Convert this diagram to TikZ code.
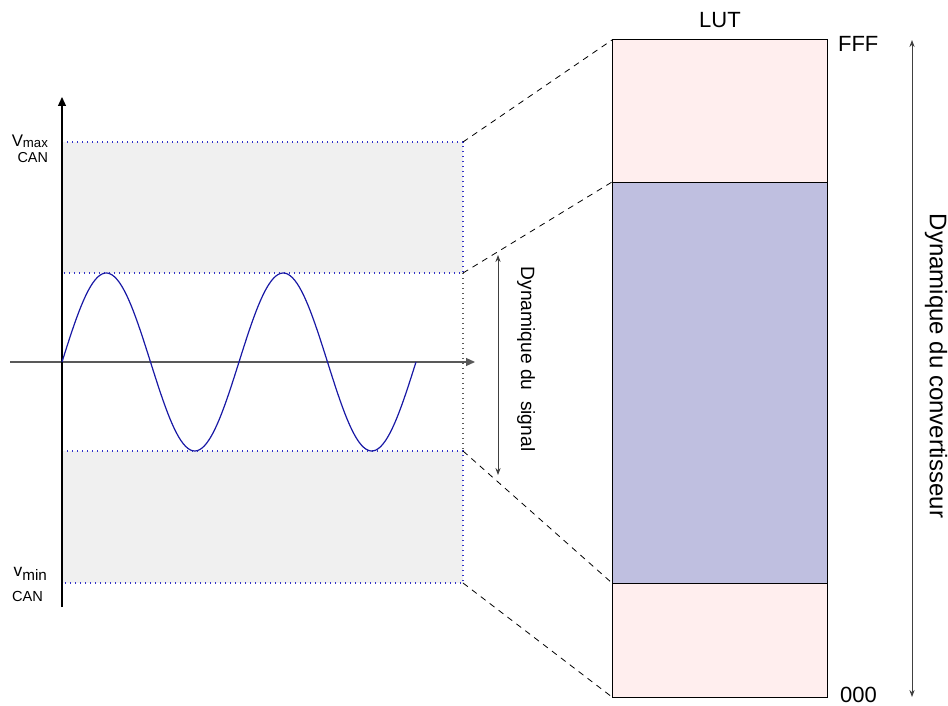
\documentclass[tikz,border=0pt]{standalone}
\usepackage{fontspec}
\setmainfont{Liberation Sans}
\usetikzlibrary{calc, arrows.meta}
\definecolor{bandgray}{RGB}{240,240,240}
\definecolor{lutpink}{RGB}{255,238,238}
\definecolor{lutblue}{RGB}{191,191,224}
\definecolor{sigblue}{RGB}{25,25,165}
\definecolor{dotblue}{RGB}{50,50,200}

\begin{document}
\begin{tikzpicture}[x=0.5pt, y=-0.5pt, font=\fontsize{11}{13}\selectfont,
  bandedge/.style={dotblue, line width=0.7pt, dash pattern=on 0.7pt off 1.8pt},
  midedge/.style={black!65, line width=0.7pt, dash pattern=on 0.7pt off 1.8pt},
  zoomline/.style={line width=0.4pt, dash pattern=on 3pt off 2.6pt},
  dyn/.style={line width=0.45pt, black!75, {Stealth[length=3.5pt,width=2.6pt]}-{Stealth[length=3.5pt,width=2.6pt]}},
  axis/.style={line width=0.6pt, -{Triangle[length=4.5pt,width=4pt]}}]
  \useasboundingbox (0,0) rectangle (948,706);

  % signal side
  \coordinate (o) at (62,362);
  \coordinate (bandTL) at (62,142);
  \coordinate (bandTR) at (463,142);
  \coordinate (sigTL) at (62,273);
  \coordinate (sigTR) at (463,273);
  \coordinate (sigBL) at (62,451);
  \coordinate (sigBR) at (463,451);
  \coordinate (bandBL) at (62,583);
  \coordinate (bandBR) at (463,583);

  \fill[bandgray] (bandTL) rectangle (sigTR);
  \fill[bandgray] (sigBL) rectangle (bandBR);
  \draw[bandedge] (bandTL) -- (bandTR) -- (sigTR) -- (sigTL);
  \draw[bandedge] (sigBL) -- (sigBR) -- (bandBR) -- (bandBL);
  \draw[midedge] (sigTR) -- (sigBR);

  \draw[axis, black!65] (10,362) -- (475,362);
  \draw[axis] (62,607) -- (62,97);

  % two periods, t in degrees
  \draw[sigblue, line width=0.6pt] plot[domain=0:720, samples=150, smooth]
    ({62+\x/360*177}, {362-89*sin(\x)});

  \node[anchor=east, font=\fontsize{8.4}{9}\selectfont] (vmax) at (55,141)
    {V\raisebox{-0.6pt}{\fontsize{6.6}{7}\selectfont max}};
  \node[anchor=east, font=\fontsize{7.2}{8}\selectfont] (vmaxcan) at (55,158) {CAN};
  \node[anchor=east, font=\fontsize{8.7}{9}\selectfont] (vmin) at (54,574)
    {v\raisebox{-2.2pt}{\fontsize{7.6}{8}\selectfont min}};
  \node[anchor=east, font=\fontsize{7.3}{8}\selectfont] (vmincan) at (50,596) {CAN};

  \coordinate (sigTop) at (498,255);
  \coordinate (sigBot) at (498,475);
  \draw[dyn] (sigTop) -- (sigBot);
  \node[rotate=-90, font=\fontsize{9.6}{11}\selectfont] (dynsig) at (526,359) {Dynamique du\ \ signal};

  % LUT
  \coordinate (lutTL) at (612,40);
  \coordinate (lutBL) at (612,697);
  \coordinate (lutBR) at (827,697);
  \coordinate (blueTL) at (612,182);
  \coordinate (blueBL) at (612,583);
  \coordinate (blueBR) at (827,583);

  \filldraw[fill=lutpink, line width=0.5pt] (lutTL) rectangle (lutBR);
  \filldraw[fill=lutblue, line width=0.5pt] (blueTL) rectangle (blueBR);

  \draw[zoomline] (bandTR) -- (lutTL);
  \draw[zoomline] (sigTR) -- (blueTL);
  \draw[zoomline] (sigBR) -- (blueBL);
  \draw[zoomline] (bandBR) -- (lutBL);

  \node (lut) at (720,20) {LUT};
  \node[anchor=west] (fff) at (831,44) {FFF};
  \node[anchor=west] (zero) at (833,695) {000};

  \coordinate (convTop) at (912,40);
  \coordinate (convBot) at (912,697);
  \draw[dyn] (convTop) -- (convBot);
  \node[rotate=-90, font=\fontsize{12}{14}\selectfont] (dynconv) at (936,366) {Dynamique du convertisseur};
\end{tikzpicture}
\end{document}
